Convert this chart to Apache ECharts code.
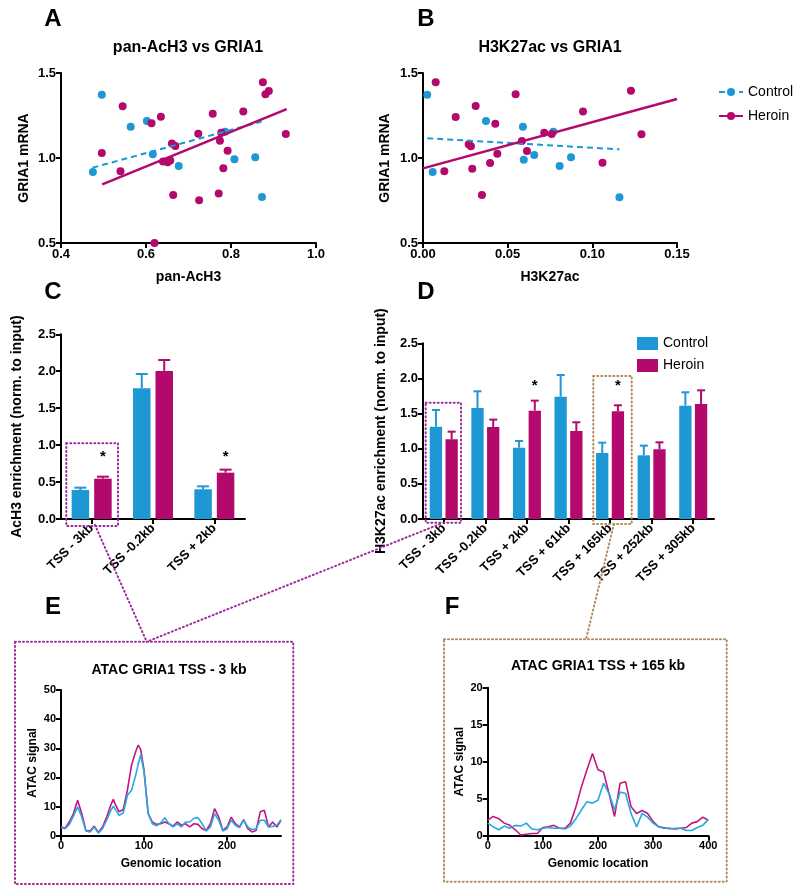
<!DOCTYPE html>
<html>
<head>
<meta charset="utf-8">
<script src="https://cdn.jsdelivr.net/npm/echarts@6/dist/echarts.min.js"></script>
<style>
  html, body { margin: 0; padding: 0; background: #fff; }
  #chart { width: 800px; height: 893px; }
</style>
</head>
<body>
<div id="chart"></div>
<script>
// ---- panel A : pan-AcH3 vs GRIA1 ----
var aCtrl = [[0.496,1.372],[0.475,0.918],[0.564,1.184],[0.602,1.218],[0.616,1.022],[0.677,0.953],[0.786,1.155],[0.808,0.992],[0.857,1.004],[0.873,0.771]];
var aHero = [[0.496,1.029],[0.545,1.304],[0.540,0.922],[0.613,1.204],[0.635,1.243],[0.620,0.500],[0.640,0.980],[0.651,0.975],[0.657,0.985],[0.661,1.086],[0.669,1.071],[0.664,0.782],[0.723,1.143],[0.725,0.751],[0.757,1.261],[0.771,0.791],[0.774,1.102],[0.777,1.149],[0.782,0.939],[0.792,1.042],[0.829,1.273],[0.875,1.445],[0.881,1.375],[0.889,1.394],[0.929,1.141]];
var aFitCtrl = [[0.474,0.943],[0.872,1.214]];
var aFitHero = [[0.497,0.845],[0.931,1.288]];

// ---- panel B : H3K27ac vs GRIA1 ----
var bCtrl = [[0.0025,1.372],[0.0057,0.918],[0.0372,1.218],[0.059,1.184],[0.0595,0.990],[0.0657,1.018],[0.077,1.155],[0.0807,0.953],[0.0874,1.004],[0.116,0.769]];
var bHero = [[0.0075,1.445],[0.0126,0.922],[0.0193,1.241],[0.0311,1.306],[0.027,1.081],[0.0283,1.069],[0.0291,0.937],[0.0348,0.782],[0.0427,1.202],[0.0439,1.025],[0.0396,0.971],[0.0547,1.375],[0.0584,1.100],[0.0614,1.041],[0.0716,1.149],[0.076,1.141],[0.0945,1.273],[0.106,0.972],[0.1228,1.396],[0.129,1.139]];
var bFitCtrl = [[0.0025,1.116],[0.116,1.051]];
var bFitHero = [[0,0.939],[0.15,1.347]];

// ---- panel C : AcH3 ChIP ----
var cCats = ['TSS - 3kb', 'TSS -0.2kb', 'TSS + 2kb'];
var cCtrl = [0.393, 1.769, 0.402];
var cCtrlErr = [0.031, 0.194, 0.040];
var cHero = [0.546, 2.004, 0.627];
var cHeroErr = [0.027, 0.148, 0.041];
var cStars = [0.84, null, 0.84];

// ---- panel D : H3K27ac ChIP ----
var dCats = ['TSS - 3kb', 'TSS -0.2kb', 'TSS + 2kb', 'TSS + 61kb', 'TSS + 165kb', 'TSS + 252kb', 'TSS + 305kb'];
var dCtrl = [1.314, 1.580, 1.015, 1.741, 0.939, 0.906, 1.613];
var dCtrlErr = [0.237, 0.237, 0.095, 0.308, 0.147, 0.138, 0.190];
var dHero = [1.134, 1.309, 1.542, 1.252, 1.532, 0.991, 1.637];
var dHeroErr = [0.109, 0.105, 0.142, 0.124, 0.086, 0.100, 0.194];
var dStars = [null, null, 1.89, null, 1.89, null, null];

// ---- panel E : ATAC TSS - 3 kb ----
var eLoc  = [0,5,10,15,20,25,30,35,40,45,50,55,60,63,65,70,75,80,85,90,93,96,100,105,110,115,120,125,130,135,140,145,150,155,160,165,170,175,180,185,190,195,200,205,210,215,220,225,230,235,240,245,250,255,260,265];
var eHero = [3.0,2.6,4.7,7.6,12.2,7.6,1.8,1.6,3.3,1.1,3.0,6.4,10.5,12.5,11.0,8.2,9.0,15.6,24.3,28.9,31.1,29.5,22.5,7.6,4.7,3.9,4.1,4.7,4.1,3.3,4.7,3.6,4.1,3.0,4.1,3.9,2.4,1.8,4.1,9.3,6.4,1.8,3.0,6.4,4.1,3.0,5.5,2.4,1.3,1.8,8.2,8.7,3.0,4.7,3.0,5.3];
var eCtrl = [2.8,2.4,3.9,6.7,9.9,6.4,1.6,1.3,3.0,0.9,2.4,5.3,8.7,10.1,9.3,7.0,7.8,13.9,15.6,20.8,24.5,27.8,22.0,7.6,4.1,3.4,4.4,6.2,4.1,3.0,4.1,3.0,4.7,4.7,5.9,6.2,4.1,1.6,3.0,7.6,5.3,1.6,2.4,5.3,3.6,2.8,5.3,3.0,2.1,2.4,5.3,5.3,3.0,3.2,3.6,5.5];

// ---- panel F : ATAC TSS + 165 kb ----
var fLoc  = [0,10,20,30,40,50,60,70,80,90,100,110,120,130,140,150,160,170,180,190,200,210,220,230,240,250,260,270,280,290,300,310,320,330,340,350,360,370,380,390,400];
var fHero = [2.1,2.6,2.3,1.7,1.4,0.8,0.1,0.2,0.3,0.3,1.1,1.2,1.4,1.0,1.0,1.7,3.9,6.6,8.9,11.1,8.9,8.6,5.7,2.6,7.1,7.3,3.9,3.0,3.4,3.0,1.9,1.2,1.0,1.0,0.9,1.0,1.1,1.7,1.9,2.5,2.1];
var fCtrl = [1.7,1.2,0.8,1.3,1.0,1.4,1.3,1.7,0.9,0.8,1.0,1.1,1.0,1.0,0.9,1.3,2.3,3.5,4.6,4.4,4.8,7.1,5.7,3.5,5.9,5.7,3.0,1.2,3.0,2.5,1.7,1.2,1.1,0.9,1.0,1.0,0.7,0.7,1.1,1.4,2.2];

var BLUE = '#1e97d5', MAG = '#b3086c';
var LBLUE = '#27a8df', LMAG = '#c4167f';
var PURPLE = '#9a2b9c', BROWN = '#b38a58';
var FONT = '"Liberation Sans", Arial, sans-serif';

function pairs(xs, ys) {
  var out = [];
  for (var i = 0; i < xs.length; i++) out.push([xs[i], ys[i]]);
  return out;
}
function triples(vals, errs) {
  var out = [];
  for (var i = 0; i < vals.length; i++) out.push([i, vals[i], errs[i]]);
  return out;
}
function starData(arr) {
  var out = [];
  for (var i = 0; i < arr.length; i++) if (arr[i] != null) out.push([i, arr[i]]);
  return out;
}

function axis(extra, labelSize) {
  var o = {
    axisLine: { show: true, onZero: false, lineStyle: { color: '#000', width: 2 } },
    axisTick: { show: true, inside: false, length: 5, lineStyle: { color: '#000', width: 2 } },
    axisLabel: { color: '#000', fontFamily: FONT, fontWeight: 'bold', fontSize: labelSize || 13, margin: 5 },
    splitLine: { show: false },
    nameLocation: 'middle',
    nameTextStyle: { color: '#000', fontFamily: FONT, fontWeight: 'bold', fontSize: 14 }
  };
  for (var k in extra) {
    if (k === 'axisLabel' || k === 'axisTick') {
      for (var j in extra[k]) o[k][j] = extra[k][j];
    } else {
      o[k] = extra[k];
    }
  }
  return o;
}
function fmt(d) { return function (v) { return v.toFixed(d); }; }

// error bars drawn next to the category center
function errBars(offset, capHalf, color) {
  return function (params, api) {
    var base = api.coord([api.value(0), api.value(1)]);
    var top = api.coord([api.value(0), api.value(1) + api.value(2)]);
    var x = base[0] + offset;
    return {
      type: 'group',
      children: [
        { type: 'line', shape: { x1: x, y1: base[1], x2: x, y2: top[1] }, style: { stroke: color, lineWidth: 2 } },
        { type: 'line', shape: { x1: x - capHalf, y1: top[1], x2: x + capHalf, y2: top[1] }, style: { stroke: color, lineWidth: 2 } }
      ]
    };
  };
}
function stars(offset) {
  return function (params, api) {
    var p = api.coord([api.value(0), api.value(1)]);
    return { type: 'text', x: p[0] + offset, y: p[1],
      style: { text: '*', align: 'center', verticalAlign: 'middle', font: 'bold 15px ' + FONT, fill: '#000' } };
  };
}

var C_BW = 17.5, C_GAP = 5, D_BW = 12.3, D_GAP = 3.4;
var cOff = (C_BW + C_GAP) / 2, dOff = (D_BW + D_GAP) / 2;

function txt(x, y, s, font) {
  return { type: 'text', x: x, y: y, style: { text: s, align: 'center', verticalAlign: 'middle', font: font, fill: '#000' } };
}
var dotted = { fill: 'none', lineWidth: 2, lineDash: [1, 3], lineCap: 'round' };
function box(x, y, w, h, color) {
  return { type: 'rect', shape: { x: x, y: y, width: w, height: h }, style: Object.assign({}, dotted, { stroke: color }), z: 10 };
}
function seg(x1, y1, x2, y2, color) {
  return { type: 'line', shape: { x1: x1, y1: y1, x2: x2, y2: y2 }, style: Object.assign({}, dotted, { stroke: color }), z: 10 };
}

var chart = echarts.init(document.getElementById('chart'));
chart.setOption({
  animation: false,
  backgroundColor: '#fff',
  grid: [
    { left: 61, right: 484, top: 73, bottom: 650 },
    { left: 423, right: 123, top: 73, bottom: 650 },
    { left: 61, right: 555, top: 334.3, bottom: 374 },
    { left: 423, right: 86, top: 343.3, bottom: 374 },
    { left: 61, right: 519, top: 690, bottom: 57.3 },
    { left: 487.7, right: 91.7, top: 687.7, bottom: 57.3 }
  ],
  xAxis: [
    axis({ gridIndex: 0, type: 'value', min: 0.4, max: 1.0, interval: 0.2, name: 'pan-AcH3', nameGap: 27, axisLabel: { formatter: fmt(1) } }),
    axis({ gridIndex: 1, type: 'value', min: 0, max: 0.15, interval: 0.05, name: 'H3K27ac', nameGap: 27, axisLabel: { formatter: fmt(2) } }),
    axis({ gridIndex: 2, type: 'category', data: cCats, axisTick: { alignWithLabel: true }, axisLabel: { rotate: 45, interval: 0, margin: 7 } }),
    axis({ gridIndex: 3, type: 'category', data: dCats, axisTick: { alignWithLabel: true }, axisLabel: { rotate: 45, interval: 0, margin: 7 } }),
    axis({ gridIndex: 4, type: 'value', min: 0, max: 265, name: 'Genomic location', nameGap: 22,
      nameTextStyle: { color: '#000', fontFamily: FONT, fontWeight: 'bold', fontSize: 12 },
      axisTick: { customValues: [0, 100, 200] }, axisLabel: { customValues: [0, 100, 200] } }, 11),
    axis({ gridIndex: 5, type: 'value', min: 0, max: 400, interval: 100, name: 'Genomic location', nameGap: 22,
      nameTextStyle: { color: '#000', fontFamily: FONT, fontWeight: 'bold', fontSize: 12 } }, 11)
  ],
  yAxis: [
    axis({ gridIndex: 0, type: 'value', min: 0.5, max: 1.5, interval: 0.5, name: 'GRIA1 mRNA', nameGap: 30, axisLabel: { formatter: fmt(1) } }),
    axis({ gridIndex: 1, type: 'value', min: 0.5, max: 1.5, interval: 0.5, name: 'GRIA1 mRNA', nameGap: 31, axisLabel: { formatter: fmt(1) } }),
    axis({ gridIndex: 2, type: 'value', min: 0, max: 2.5, interval: 0.5, name: 'AcH3 enrichment (norm. to input)', nameGap: 37, axisLabel: { formatter: fmt(1) } }),
    axis({ gridIndex: 3, type: 'value', min: 0, max: 2.5, interval: 0.5, name: 'H3K27ac enrichment (norm. to input)', nameGap: 35, axisLabel: { formatter: fmt(1) } }),
    axis({ gridIndex: 4, type: 'value', min: 0, max: 50, interval: 10, name: 'ATAC signal', nameGap: 22,
      nameTextStyle: { color: '#000', fontFamily: FONT, fontWeight: 'bold', fontSize: 12 } }, 11),
    axis({ gridIndex: 5, type: 'value', min: 0, max: 20, interval: 5, name: 'ATAC signal', nameGap: 22,
      nameTextStyle: { color: '#000', fontFamily: FONT, fontWeight: 'bold', fontSize: 12 } }, 11)
  ],
  legend: [
    { data: ['Control', 'Heroin'], orient: 'vertical', left: 713, top: 80, itemWidth: 24, itemHeight: 10, itemGap: 10,
      selectedMode: false, textStyle: { fontFamily: FONT, fontSize: 14, color: '#000' } },
    { data: ['Control', 'Heroin'], orient: 'vertical', left: 632, top: 331.5, itemWidth: 21, itemHeight: 13, itemGap: 8,
      icon: 'rect', selectedMode: false, textStyle: { fontFamily: FONT, fontSize: 14, color: '#000' } }
  ],
  series: [
    // regression lines (also used for the legend of B)
    { name: 'Control', type: 'line', xAxisIndex: 0, yAxisIndex: 0, data: aFitCtrl, symbol: 'circle', showSymbol: false,
      lineStyle: { color: BLUE, width: 2, type: [6, 4] }, itemStyle: { color: BLUE }, z: 3 },
    { name: 'Heroin', type: 'line', xAxisIndex: 0, yAxisIndex: 0, data: aFitHero, symbol: 'circle', showSymbol: false,
      lineStyle: { color: MAG, width: 2.5 }, itemStyle: { color: MAG }, z: 3 },
    { name: 'Control', type: 'line', xAxisIndex: 1, yAxisIndex: 1, data: bFitCtrl, symbol: 'circle', showSymbol: false,
      lineStyle: { color: BLUE, width: 2, type: [6, 4] }, itemStyle: { color: BLUE }, z: 3 },
    { name: 'Heroin', type: 'line', xAxisIndex: 1, yAxisIndex: 1, data: bFitHero, symbol: 'circle', showSymbol: false,
      lineStyle: { color: MAG, width: 2.5 }, itemStyle: { color: MAG }, z: 3 },
    // scatter points
    { name: 'Control', type: 'scatter', xAxisIndex: 0, yAxisIndex: 0, data: aCtrl, symbolSize: 8, clip: false, itemStyle: { color: BLUE, opacity: 1 } },
    { name: 'Heroin', type: 'scatter', xAxisIndex: 0, yAxisIndex: 0, data: aHero, symbolSize: 8, clip: false, itemStyle: { color: MAG, opacity: 1 } },
    { name: 'Control', type: 'scatter', xAxisIndex: 1, yAxisIndex: 1, data: bCtrl, symbolSize: 8, clip: false, itemStyle: { color: BLUE, opacity: 1 } },
    { name: 'Heroin', type: 'scatter', xAxisIndex: 1, yAxisIndex: 1, data: bHero, symbolSize: 8, clip: false, itemStyle: { color: MAG, opacity: 1 } },
    // C bars
    { name: 'Control', type: 'bar', xAxisIndex: 2, yAxisIndex: 2, data: cCtrl, barWidth: C_BW, barGap: (C_GAP / C_BW * 100) + '%', itemStyle: { color: BLUE } },
    { name: 'Heroin', type: 'bar', xAxisIndex: 2, yAxisIndex: 2, data: cHero, barWidth: C_BW, barGap: (C_GAP / C_BW * 100) + '%', itemStyle: { color: MAG } },
    { type: 'custom', xAxisIndex: 2, yAxisIndex: 2, data: triples(cCtrl, cCtrlErr), encode: { x: 0, y: 1 }, renderItem: errBars(-cOff, 6, BLUE), clip: false, z: 4 },
    { type: 'custom', xAxisIndex: 2, yAxisIndex: 2, data: triples(cHero, cHeroErr), encode: { x: 0, y: 1 }, renderItem: errBars(cOff, 6, MAG), clip: false, z: 4 },
    { type: 'custom', xAxisIndex: 2, yAxisIndex: 2, data: starData(cStars), encode: { x: 0, y: 1 }, renderItem: stars(cOff), clip: false, z: 4 },
    // D bars
    { name: 'Control', type: 'bar', xAxisIndex: 3, yAxisIndex: 3, data: dCtrl, barWidth: D_BW, barGap: (D_GAP / D_BW * 100) + '%', itemStyle: { color: BLUE } },
    { name: 'Heroin', type: 'bar', xAxisIndex: 3, yAxisIndex: 3, data: dHero, barWidth: D_BW, barGap: (D_GAP / D_BW * 100) + '%', itemStyle: { color: MAG } },
    { type: 'custom', xAxisIndex: 3, yAxisIndex: 3, data: triples(dCtrl, dCtrlErr), encode: { x: 0, y: 1 }, renderItem: errBars(-dOff, 4, BLUE), clip: false, z: 4 },
    { type: 'custom', xAxisIndex: 3, yAxisIndex: 3, data: triples(dHero, dHeroErr), encode: { x: 0, y: 1 }, renderItem: errBars(dOff, 4, MAG), clip: false, z: 4 },
    { type: 'custom', xAxisIndex: 3, yAxisIndex: 3, data: starData(dStars), encode: { x: 0, y: 1 }, renderItem: stars(dOff), clip: false, z: 4 },
    // E / F ATAC tracks
    { name: 'Heroin', type: 'line', xAxisIndex: 4, yAxisIndex: 4, data: pairs(eLoc, eHero), showSymbol: false, symbol: 'none', lineStyle: { color: LMAG, width: 1.6 } },
    { name: 'Control', type: 'line', xAxisIndex: 4, yAxisIndex: 4, data: pairs(eLoc, eCtrl), showSymbol: false, symbol: 'none', lineStyle: { color: LBLUE, width: 1.6 } },
    { name: 'Heroin', type: 'line', xAxisIndex: 5, yAxisIndex: 5, data: pairs(fLoc, fHero), showSymbol: false, symbol: 'none', lineStyle: { color: LMAG, width: 1.6 } },
    { name: 'Control', type: 'line', xAxisIndex: 5, yAxisIndex: 5, data: pairs(fLoc, fCtrl), showSymbol: false, symbol: 'none', lineStyle: { color: LBLUE, width: 1.6 } }
  ],
  graphic: [
    txt(53, 19, 'A', 'bold 24px ' + FONT),
    txt(426, 19, 'B', 'bold 24px ' + FONT),
    txt(53, 292, 'C', 'bold 24px ' + FONT),
    txt(426, 292, 'D', 'bold 24px ' + FONT),
    txt(53, 607, 'E', 'bold 24px ' + FONT),
    txt(452, 607, 'F', 'bold 24px ' + FONT),
    txt(188, 48, 'pan-AcH3 vs GRIA1', 'bold 16px ' + FONT),
    txt(550, 48, 'H3K27ac vs GRIA1', 'bold 16px ' + FONT),
    txt(169, 670, 'ATAC GRIA1 TSS - 3 kb', 'bold 14px ' + FONT),
    txt(598, 666, 'ATAC GRIA1 TSS + 165 kb', 'bold 14px ' + FONT),
    box(66.3, 443.3, 51.7, 82.7, PURPLE),
    box(425.7, 402.7, 35.3, 120, PURPLE),
    box(593.3, 376, 38.4, 148, BROWN),
    box(15, 641.7, 278.3, 242.3, PURPLE),
    box(444, 639.3, 282.7, 242.4, BROWN),
    seg(95, 525, 146.7, 641.7, PURPLE),
    seg(440, 524, 146.7, 641.7, PURPLE),
    seg(614, 524, 586, 639.3, BROWN)
  ]
});
</script>
</body>
</html>
